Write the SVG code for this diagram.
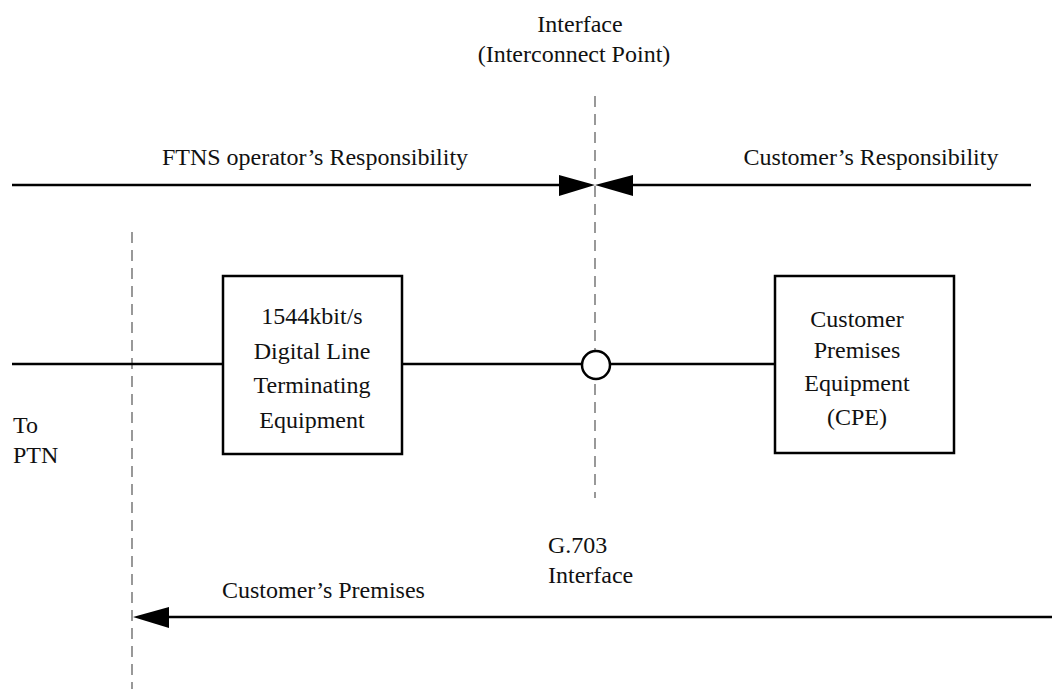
<svg xmlns="http://www.w3.org/2000/svg" width="1052" height="689" viewBox="0 0 1052 689" font-family="'Liberation Serif', 'Times New Roman', Times, serif">
  <style>
    text { font-family: "Liberation Serif", "Times New Roman", Times, serif; font-size: 24px; fill: #111; }
    .mid { text-anchor: middle; }
    .line { stroke: #000; stroke-width: 2.5; fill: none; }
    .dash { stroke: #555; stroke-width: 1.2; stroke-dasharray: 11 7; fill: none; }
    .box { stroke: #000; stroke-width: 2.5; fill: #fff; }
    .head { fill: #000; stroke: none; }
  </style>

  <!-- boundary markers -->
  <g id="boundaries">
    <line class="dash" x1="595" y1="96" x2="595" y2="498"/>
    <line class="dash" x1="132" y1="232" x2="132" y2="689"/>
  </g>

  <!-- labels -->
  <g id="labels" font-family="'Liberation Serif', serif">
    <text class="mid" x="580" y="32">Interface</text>
    <text class="mid" x="574" y="62">(Interconnect Point)</text>
    <text class="mid" x="315" y="165">FTNS operator’s Responsibility</text>
    <text class="mid" x="871" y="165">Customer’s Responsibility</text>
    <text x="13" y="433">To</text>
    <text x="13" y="463">PTN</text>
    <text x="548" y="553">G.703</text>
    <text x="548" y="583">Interface</text>
    <text x="222" y="598">Customer’s Premises</text>
  </g>

  <!-- connectors -->
  <g id="connectors">
    <!-- responsibility split -->
    <line class="line" x1="12" y1="185" x2="560" y2="185"/>
    <line class="line" x1="632" y1="185" x2="1031" y2="185"/>
    <polygon class="head" points="559,175 595,185 559,196"/>
    <polygon class="head" points="633,175 595,185 633,196"/>
    <!-- signal path -->
    <line class="line" x1="12" y1="364" x2="223" y2="364"/>
    <line class="line" x1="402" y1="364" x2="581" y2="364"/>
    <line class="line" x1="610" y1="364" x2="775" y2="364"/>
    <!-- customer's premises extent -->
    <line class="line" x1="165" y1="617" x2="1052" y2="617"/>
    <polygon class="head" points="169,607 133,617 169,628"/>
  </g>

  <!-- interface point -->
  <g id="interface-point">
    <circle cx="596" cy="365" r="14" stroke="#000" stroke-width="2.5" fill="#fff"/>
  </g>

  <g id="dlte" font-family="'Liberation Serif', serif">
    <rect class="box" x="223" y="276" width="179" height="178"/>
    <text class="mid" x="312" y="324">1544kbit/s</text>
    <text class="mid" x="312" y="359">Digital Line</text>
    <text class="mid" x="312" y="393">Terminating</text>
    <text class="mid" x="312" y="428">Equipment</text>
  </g>

  <g id="cpe" font-family="'Liberation Serif', serif">
    <rect class="box" x="775" y="276" width="179" height="177"/>
    <text class="mid" x="857" y="327">Customer</text>
    <text class="mid" x="857" y="358">Premises</text>
    <text class="mid" x="857" y="391">Equipment</text>
    <text class="mid" x="857" y="425">(CPE)</text>
  </g>
</svg>
